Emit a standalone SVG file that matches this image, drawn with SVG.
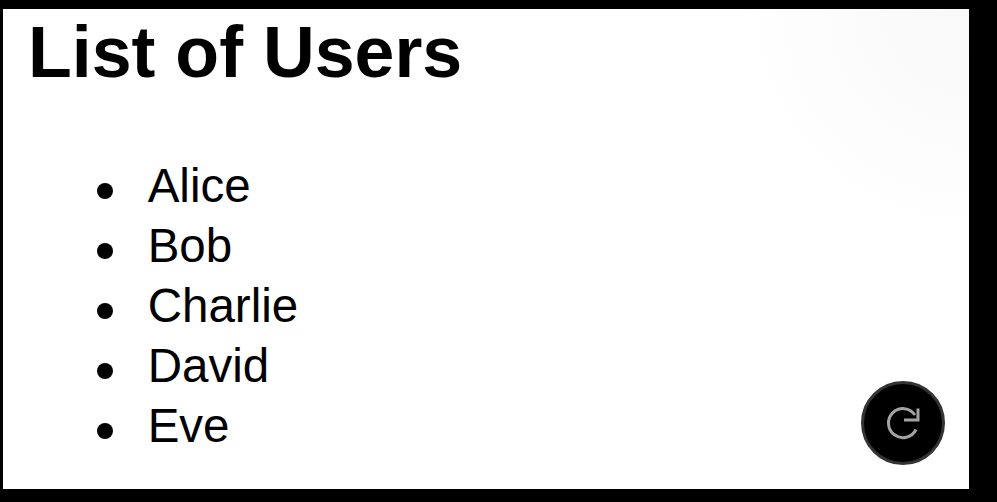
<svg xmlns="http://www.w3.org/2000/svg" width="997" height="502" viewBox="0 0 997 502">
<defs>
<radialGradient id="glow" gradientUnits="userSpaceOnUse" cx="969" cy="9" r="230">
<stop offset="0" stop-color="#f8f8f8"/>
<stop offset="0.6" stop-color="#fcfcfc"/>
<stop offset="1" stop-color="#ffffff"/>
</radialGradient>
</defs>
<style>
text{font-family:"Liberation Sans",Arial,Helvetica,sans-serif;fill:#000}
.h{font-size:71.700px;font-weight:700}
.i{font-size:47.500px}
</style>
<rect width="997" height="502" fill="#000"/>
<rect x="3" y="9" width="966" height="480" fill="url(#glow)"/>
<g id="title"><text class="h" x="28" y="77">List of Users</text></g>
<g id="list">
<circle cx="105" cy="191" r="8"/><text class="i" x="147.700" y="202">Alice</text>
<circle cx="105" cy="251" r="8"/><text class="i" x="147.700" y="262">Bob</text>
<circle cx="105" cy="311" r="8"/><text class="i" x="147.700" y="322">Charlie</text>
<circle cx="105" cy="371" r="8"/><text class="i" x="147.700" y="382">David</text>
<circle cx="105" cy="431" r="8"/><text class="i" x="147.700" y="442">Eve</text>
</g>
<g id="refresh">
<circle cx="903" cy="423" r="40.500" fill="#000" stroke="#333" stroke-width="3"/>
<path d="M915 415A14.500 14.500 0 1 0 916 429.500" fill="none" stroke="#a3a3a3" stroke-width="3"/>
<path d="M918 408.500V420H904" fill="none" stroke="#a3a3a3" stroke-width="3"/>
</g>
</svg>
